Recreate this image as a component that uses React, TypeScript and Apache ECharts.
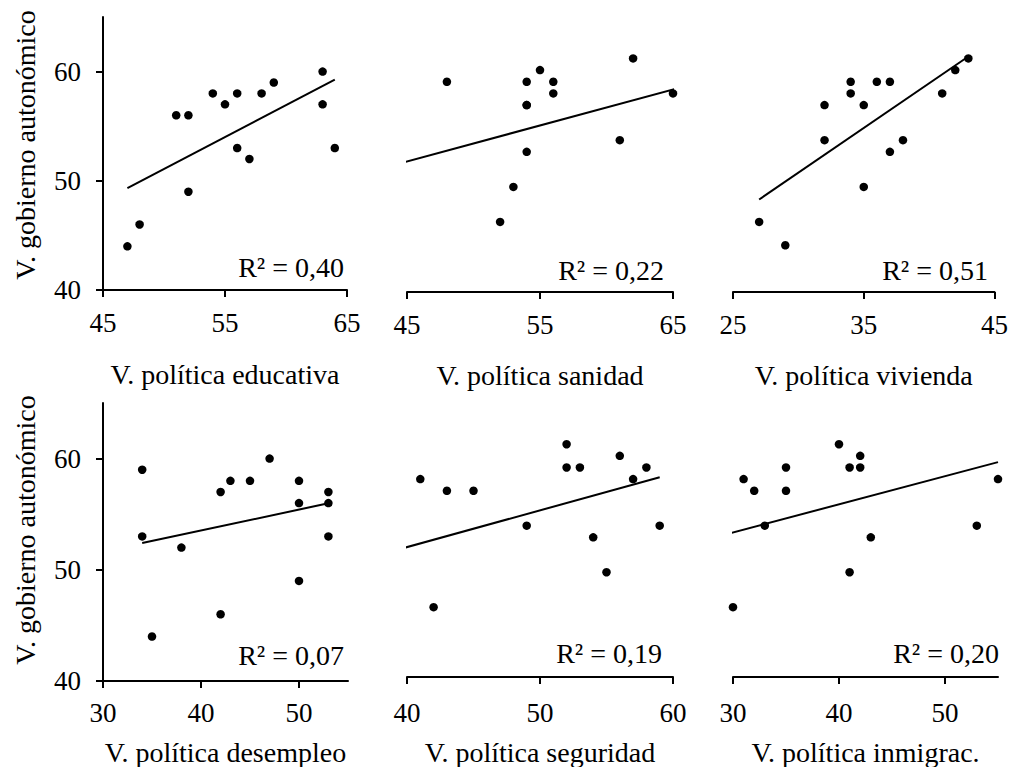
import React, { useEffect, useRef } from "react";
import * as echarts from "echarts";

// ---------- data ----------
const yTitle = "V. gobierno autonómico";
const xTitles = [
  "V. política educativa",
  "V. política sanidad",
  "V. política vivienda",
  "V. política desempleo",
  "V. política seguridad",
  "V. política inmigrac.",
];
const r2Labels = ["R² = 0,40", "R² = 0,22", "R² = 0,51", "R² = 0,07", "R² = 0,19", "R² = 0,20"];

// [x, y] pairs; a few points lie outside the axis ranges (estimated from the trendlines)
const educativa: [number, number][] = [
  [47, 44], [48, 46], [51, 56], [52, 56], [52, 49], [54, 58], [55, 57], [56, 58],
  [56, 53], [57, 52], [58, 58], [59, 59], [63, 60], [63, 57], [64, 53],
];
const sanidad: [number, number][] = [
  [48, 58], [54, 58], [55, 59], [56, 58], [56, 57], [54, 56], [54, 56], [54, 52],
  [53, 49], [52, 46], [61, 53], [62, 60], [65, 57], [39, 44], [69, 53],
];
const vivienda: [number, number][] = [
  [27, 46], [29, 44], [32, 56], [32, 53], [34, 58], [34, 57], [35, 56], [35, 49],
  [36, 58], [37, 58], [37, 52], [38, 53], [41, 57], [42, 59], [43, 60],
];
const desempleo: [number, number][] = [
  [34, 59], [34, 53], [35, 44], [38, 52], [42, 57], [42, 46], [43, 58], [45, 58],
  [47, 60], [50, 58], [50, 56], [50, 49], [53, 57], [53, 56], [53, 53],
];
const seguridad: [number, number][] = [
  [41, 57], [43, 56], [45, 56], [42, 46], [49, 53], [52, 60], [52, 58], [53, 58],
  [54, 52], [55, 49], [56, 59], [57, 57], [58, 58], [59, 53], [38, 44],
];
const inmigrac: [number, number][] = [
  [30, 46], [31, 57], [32, 56], [33, 53], [35, 58], [35, 56], [40, 60], [41, 58],
  [41, 49], [42, 59], [42, 58], [43, 52], [53, 53], [55, 57], [20, 44],
];
const panelsData = [educativa, sanidad, vivienda, desempleo, seguridad, inmigrac];

const xMins = [45, 45, 25, 30, 40, 30];
const xMaxs = [65, 65, 45, 55, 60, 55];
const xTickValues = [
  [45, 55, 65],
  [45, 55, 65],
  [25, 35, 45],
  [30, 40, 50],
  [40, 50, 60],
  [30, 40, 50],
];
const yMin = 40;
const yMax = 65;
const yTickValues = [40, 50, 60];

// ---------- layout ----------
const FONT = '"Liberation Serif", "Times New Roman", serif';
const layout = [
  { left: 103, top: 17, width: 244, height: 273, showY: true, labelMargin: 19, nameGap: 70, r2x: 344, r2y: 267 },
  { left: 407, top: 0, width: 266, height: 292, showY: false, labelMargin: 19, nameGap: 69, r2x: 664, r2y: 270 },
  { left: 733, top: 0, width: 265, height: 292, showY: false, labelMargin: 19, nameGap: 69, r2x: 988, r2y: 270 },
  { left: 103, top: 403, width: 245, height: 279, showY: true, labelMargin: 18, nameGap: 57, r2x: 344, r2y: 655 },
  { left: 407, top: 386, width: 266, height: 292, showY: false, labelMargin: 22, nameGap: 61, r2x: 662, r2y: 653 },
  { left: 733, top: 386, width: 265, height: 292, showY: false, labelMargin: 22, nameGap: 61, r2x: 999, r2y: 653 },
];
const yTitleCenters = [
  { x: 25, y: 145 },
  { x: 25, y: 530 },
];

function trend(pts: [number, number][]): [number, number][] {
  const n = pts.length;
  const mx = pts.reduce((s, p) => s + p[0], 0) / n;
  const my = pts.reduce((s, p) => s + p[1], 0) / n;
  let sxx = 0;
  let sxy = 0;
  pts.forEach((p) => {
    sxx += (p[0] - mx) * (p[0] - mx);
    sxy += (p[0] - mx) * (p[1] - my);
  });
  const b = sxy / sxx;
  const a = my - b * mx;
  const xs = pts.map((p) => p[0]);
  const x0 = Math.min(...xs);
  const x1 = Math.max(...xs);
  return [
    [x0, a + b * x0],
    [x1, a + b * x1],
  ];
}

export default function App() {
  const ref = useRef<HTMLDivElement>(null);

  useEffect(() => {
    if (!ref.current) return;
    const chart = echarts.init(ref.current, null, { renderer: "svg" });

    const grids = layout.map((l) => ({
      left: l.left,
      top: l.top,
      width: l.width,
      height: l.height,
      containLabel: false,
    }));

    const xAxes = layout.map((l, i) => ({
      type: "value",
      gridIndex: i,
      min: xMins[i],
      max: xMaxs[i],
      name: xTitles[i],
      nameLocation: "middle",
      nameGap: l.nameGap,
      nameTextStyle: { fontFamily: FONT, fontSize: 28, color: "#000" },
      axisLine: { show: true, onZero: false, lineStyle: { color: "#000", width: 2 } },
      axisTick: {
        show: true,
        inside: false,
        length: 7,
        customValues: xTickValues[i],
        lineStyle: { color: "#000", width: 2 },
      },
      axisLabel: {
        show: true,
        margin: l.labelMargin,
        customValues: xTickValues[i],
        fontFamily: FONT,
        fontSize: 27,
        color: "#000",
      },
      splitLine: { show: false },
    }));

    const yAxes = layout.map((l, i) => ({
      type: "value",
      gridIndex: i,
      min: yMin,
      max: yMax,
      show: l.showY,
      axisLine: { show: true, onZero: false, lineStyle: { color: "#000", width: 2 } },
      axisTick: {
        show: true,
        inside: false,
        length: 7,
        customValues: yTickValues,
        lineStyle: { color: "#000", width: 2 },
      },
      axisLabel: {
        show: true,
        margin: 22,
        customValues: yTickValues,
        fontFamily: FONT,
        fontSize: 27,
        color: "#000",
      },
      splitLine: { show: false },
    }));

    const series: any[] = [];
    panelsData.forEach((pts, i) => {
      series.push({
        type: "scatter",
        xAxisIndex: i,
        yAxisIndex: i,
        data: pts,
        symbol: "circle",
        symbolSize: 8.5,
        itemStyle: { color: "#000", opacity: 1 },
        clip: true,
      });
      series.push({
        type: "line",
        xAxisIndex: i,
        yAxisIndex: i,
        data: trend(pts),
        showSymbol: false,
        symbol: "none",
        clip: true,
        lineStyle: { color: "#000", width: 2 },
      });
    });

    const graphic: any[] = [];
    yTitleCenters.forEach((c) => {
      graphic.push({
        type: "text",
        x: c.x,
        y: c.y,
        rotation: Math.PI / 2,
        style: {
          text: yTitle,
          font: `28px ${FONT}`,
          fill: "#000",
          align: "center",
          verticalAlign: "middle",
        },
      });
    });
    layout.forEach((l, i) => {
      graphic.push({
        type: "text",
        x: l.r2x,
        y: l.r2y,
        style: {
          text: r2Labels[i],
          font: `28px ${FONT}`,
          fill: "#000",
          align: "right",
          verticalAlign: "middle",
        },
      });
    });

    chart.setOption({
      animation: false,
      backgroundColor: "#fff",
      grid: grids,
      xAxis: xAxes,
      yAxis: yAxes,
      series,
      graphic,
    });

    return () => chart.dispose();
  }, []);

  return (
    <div
      ref={ref}
      style={{ position: "absolute", left: 0, top: 0, width: 1011, height: 767, background: "#fff" }}
    />
  );
}
